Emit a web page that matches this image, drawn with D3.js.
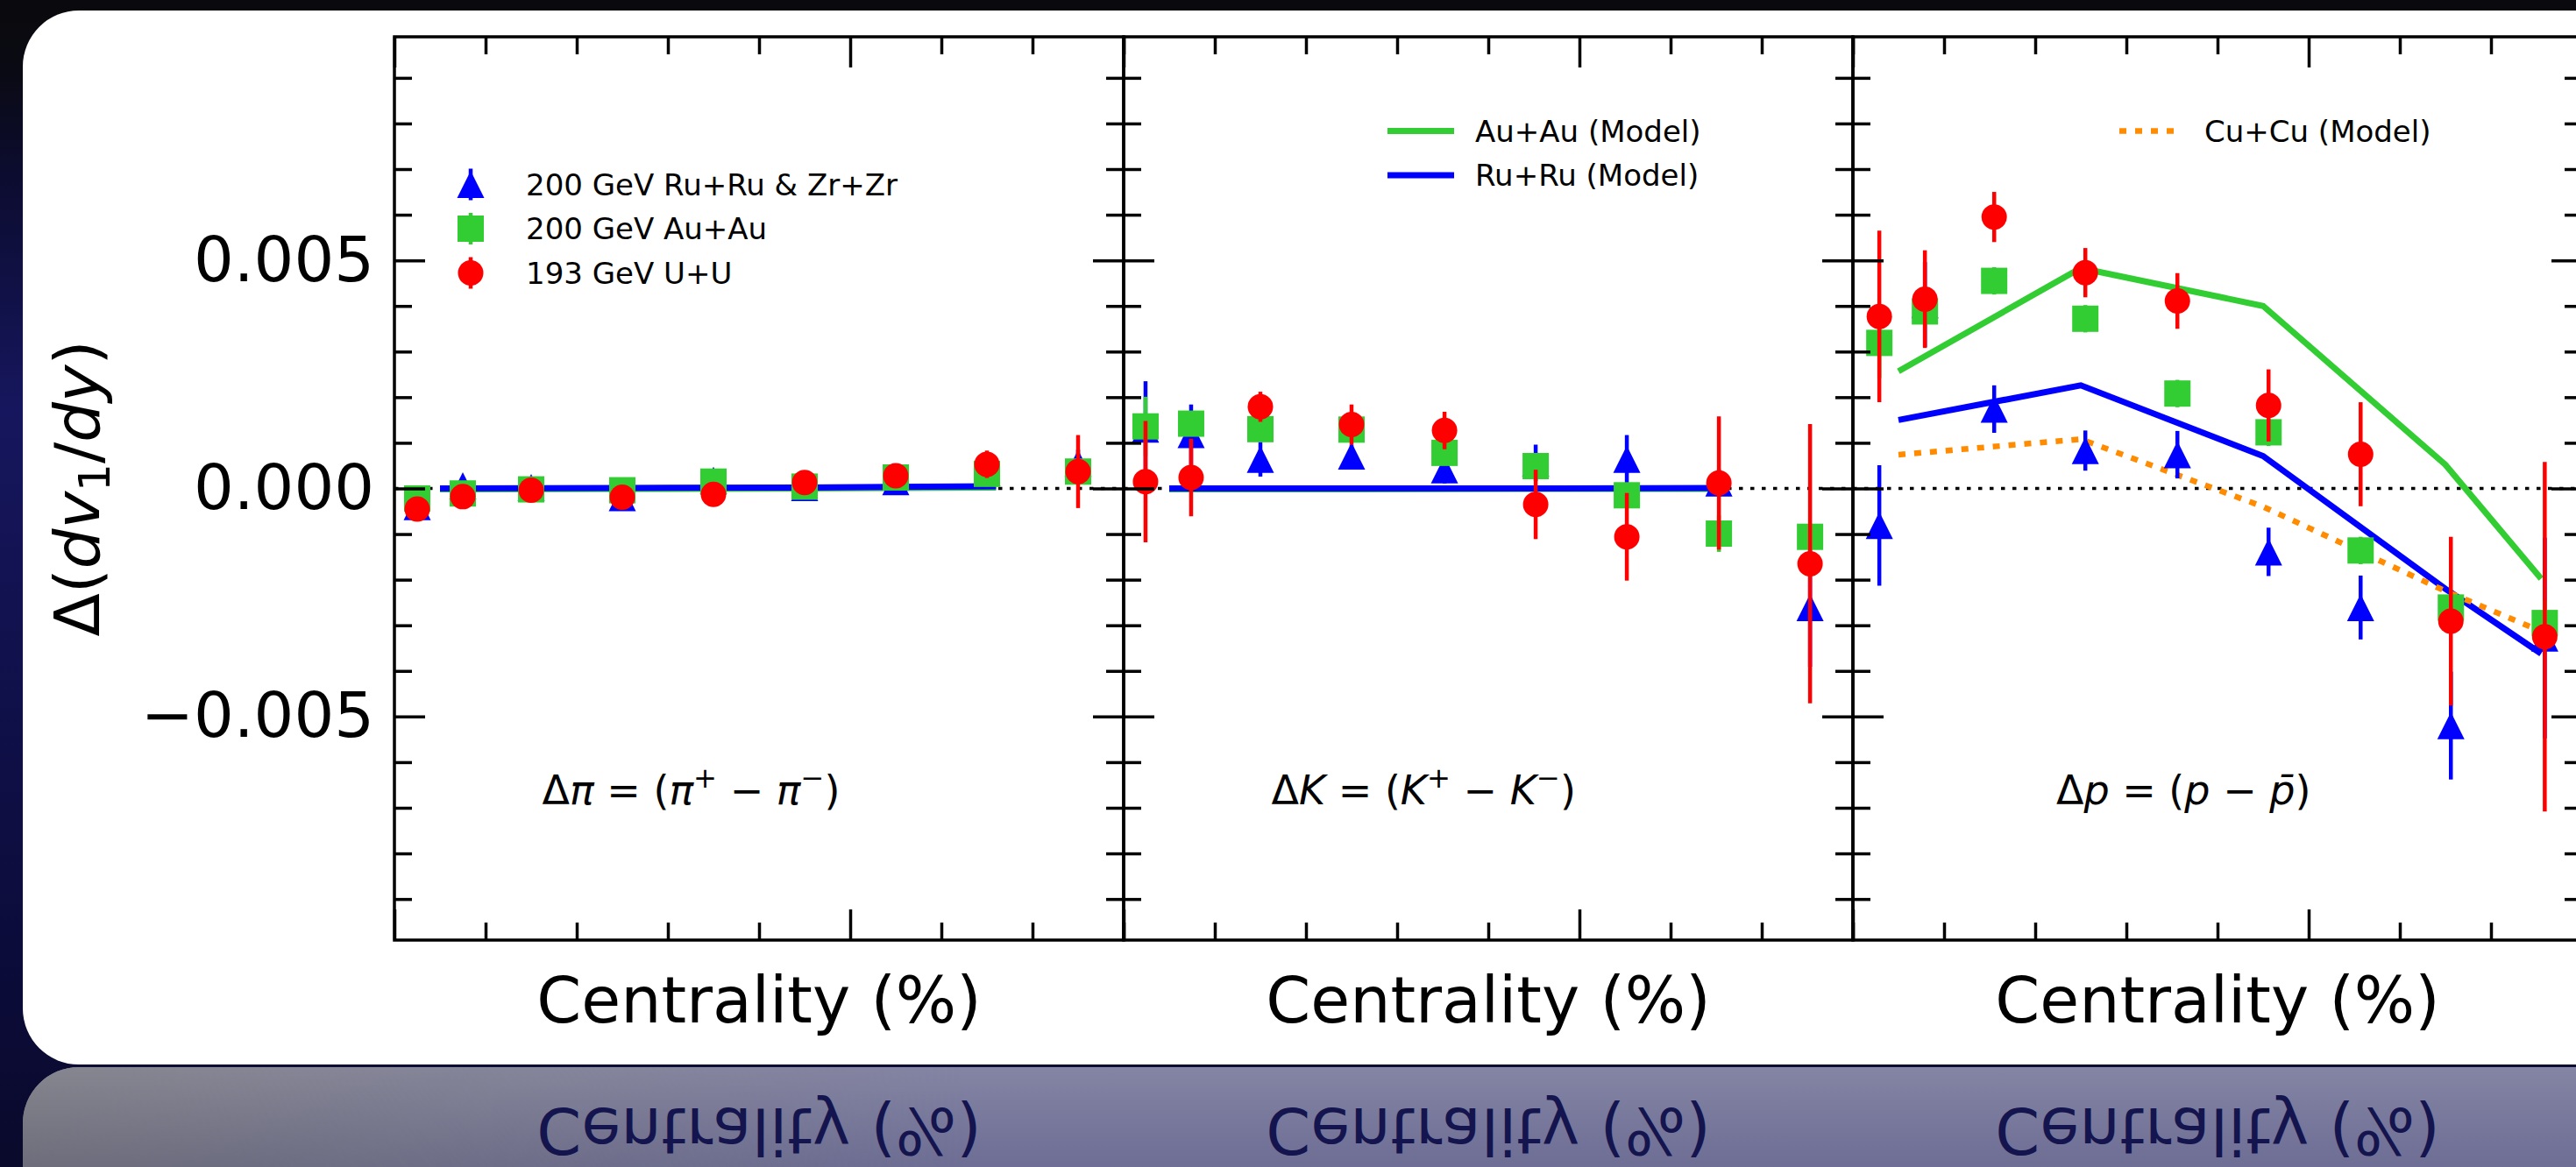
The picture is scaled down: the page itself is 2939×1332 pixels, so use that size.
<!DOCTYPE html>
<html>
<head>
<meta charset="utf-8">
<script src="https://cdn.jsdelivr.net/npm/d3@7"></script>
<style>
  html, body { margin: 0; padding: 0; background: #0a0a10; overflow: hidden; }
  svg { display: block; font-family: "DejaVu Sans", sans-serif; }
</style>
</head>
<body>
<svg id="chart" width="2939" height="1332"></svg>
<script>
// ---- data ----
const centralityPi = [2.5, 7.5, 15, 25, 35, 45, 55, 65, 75];
const centralityK = [2.4, 7.4, 15, 25, 35.2, 45.2, 55.2, 65.3, 75.3];
const centralityP = [2.9, 7.9, 15.5, 25.5, 35.6, 45.6, 55.7, 65.6, 75.9];

// pions
const piRuRu = [-0.00040, 0.00006, 0.00002, -0.00020, 0.00018, 0.00002, 0.00015, 0.00035, 0.00055];
const piRuRuErr = [0.00012, 0.00008, 0.00006, 0.00008, 0.00008, 0.00006, 0.00008, 0.00010, 0.00030];
const piAuAu = [-0.00022, -0.00011, -0.00002, -0.00004, 0.00015, 0.00004, 0.00024, 0.00032, 0.00037];
const piAuAuErr = [0.00006, 0.00005, 0.00005, 0.00005, 0.00006, 0.00005, 0.00006, 0.00008, 0.00010];
const piUU = [-0.00045, -0.00018, -0.00004, -0.00019, -0.00013, 0.00013, 0.00028, 0.00053, 0.00037];
const piUUErr = [0.00010, 0.00010, 0.00010, 0.00010, 0.00010, 0.00010, 0.00012, 0.00030, 0.00080];

// kaons
const kRuRu = [0.00130, 0.00118, 0.00064, 0.00071, 0.00041, 0.00056, 0.00064, 0.00012, -0.00261];
const kRuRuErr = [0.00105, 0.00066, 0.00038, 0.00025, 0.00030, 0.00040, 0.00053, 0.00030, 0.00130];
const kAuAu = [0.00136, 0.00142, 0.00130, 0.00129, 0.00078, 0.00049, -0.00015, -0.00099, -0.00106];
const kAuAuErr = [0.00065, 0.00020, 0.00020, 0.00020, 0.00020, 0.00020, 0.00020, 0.00040, 0.00030];
const kUU = [0.00015, 0.00024, 0.00179, 0.00140, 0.00127, -0.00035, -0.00106, 0.00012, -0.00165];
const kUUErr = [0.00133, 0.00085, 0.00033, 0.00044, 0.00041, 0.00076, 0.00096, 0.00146, 0.00306];

// protons
const pRuRu = [-0.00081, 0.00403, 0.00174, 0.00083, 0.00074, -0.00139, -0.00261, -0.00520, -0.00328];
const pRuRuErr = [0.00132, 0.00093, 0.00052, 0.00044, 0.00052, 0.00053, 0.00070, 0.00118, 0.00220];
const pAuAu = [0.00319, 0.00388, 0.00455, 0.00372, 0.00208, 0.00123, -0.00136, -0.00261, -0.00295];
const pAuAuErr = [0.00077, 0.00030, 0.00030, 0.00030, 0.00030, 0.00030, 0.00030, 0.00030, 0.00050];
const pUU = [0.00377, 0.00415, 0.00595, 0.00473, 0.00411, 0.00182, 0.00075, -0.00291, -0.00325];
const pUUErr = [0.00188, 0.00107, 0.00055, 0.00054, 0.00061, 0.00079, 0.00114, 0.00185, 0.00383];

// model curves
const modelCentrality = [5, 25, 45, 66];
const piModelAu = [-0.00002, -0.00001, 0.00000, 0.00002];
const piModelRu = [0.00000, 0.00001, 0.00002, 0.00005];
const kModelAu = [-0.00002, -0.00002, -0.00001, -0.00001];
const kModelRu = [0.00000, 0.00000, 0.00000, 0.00001];
const modelCentralityP = [5, 25, 45, 65, 75.5];
const pModelAu = [0.00257, 0.00483, 0.00400, 0.00052, -0.00198];
const pModelRu = [0.00150, 0.00226, 0.00071, -0.00220, -0.00362];
const pModelCu = [0.00074, 0.00108, -0.00040, -0.00225, -0.00313];

// axes / labels
const xDomain = [0, 80];
const yDomain = [-0.0099, 0.0099];
const xMajorTicks = [0, 50];
const xMinorTicks = [10, 20, 30, 40, 60, 70, 80];
const yMajorTicks = [-0.005, 0, 0.005];
const dataLegendLabels = ["200 GeV Ru+Ru & Zr+Zr", "200 GeV Au+Au", "193 GeV U+U"];
const modelLegendLabels = ["Au+Au (Model)", "Ru+Ru (Model)", "Cu+Cu (Model)"];
const xLabel = "Centrality (%)";
const noteParts = [
    [["Δ", ""], ["π", "i"], [" = (", ""], ["π", "i"], ["+", "sup"], [" − ", ""], ["π", "i"], ["−", "sup"], [")", ""]],
    [["Δ", ""], ["K", "i"], [" = (", ""], ["K", "i"], ["+", "sup"], [" − ", ""], ["K", "i"], ["−", "sup"], [")", ""]],
    [["Δ", ""], ["p", "i"], [" = (", ""], ["p", "i"], [" − ", ""], ["p\u0304", "i"], [")", ""]],
];

// ---- layout ----
const W = 2939, H = 1332;
const CARD = { x: 26, y: 12, w: 2980, bottom: 1215, r: 64 };
const PLOT = { left: 450, top: 42, bottom: 1073, panelW: 832 };
const MIRROR_Y = 1216;
const COLORS = { ru: "#0000ff", au: "#32cd32", u: "#ff0000", cu: "#ff8c00" };
const NOTE_POS = [{ x: 16.2, y: -0.00693 }, { x: 16.2, y: -0.00693 }, { x: 22.3, y: -0.00693 }];

const svg = d3.select("#chart");
const defs = svg.append("defs");

function addGradient(id, stops, attrs) {
    const g = defs.append("linearGradient").attr("id", id);
    Object.entries(attrs).forEach(([k, v]) => g.attr(k, v));
    stops.forEach(([o, c, op]) => g.append("stop").attr("offset", o).attr("stop-color", c).attr("stop-opacity", op ?? 1));
}

addGradient("bgGrad", [[0, "#0a0a0c"], [0.06, "#0a0a14"], [0.15, "#0c0c30"], [0.35, "#16165e"],
    [0.6, "#10104a"], [0.85, "#0b0b38"], [1, "#0a0a2c"]], { x1: 0, y1: 0, x2: 0, y2: 1 });
addGradient("reflRight", [[0, "#8484a4"], [1, "#4a4a7e"]], { x1: 0, y1: 0, x2: 0, y2: 1 });
addGradient("reflLeft", [[0, "#86868f"], [1, "#44445a"]], { x1: 0, y1: 0, x2: 0, y2: 1 });
addGradient("reflFade", [[0, "#fff"], [1, "#000"]],
    { gradientUnits: "userSpaceOnUse", x1: 26, y1: 0, x2: 1100, y2: 0 });
defs.append("mask").attr("id", "reflMask")
    .append("rect").attr("x", 0).attr("y", 0).attr("width", W).attr("height", H).attr("fill", "url(#reflFade)");
defs.append("clipPath").attr("id", "reflClip")
    .append("rect").attr("x", CARD.x).attr("y", MIRROR_Y + 2).attr("width", CARD.w).attr("height", 300).attr("rx", CARD.r);

/**
 * 背景・カード・反射部分
 */
function drawBackdrop() {
    svg.append("rect").attr("width", W).attr("height", H).attr("fill", "url(#bgGrad)");
    svg.append("rect").attr("width", W).attr("height", CARD.y).attr("fill", "#0a0a0e");

    const refl = svg.append("g").attr("clip-path", "url(#reflClip)");
    refl.append("rect").attr("x", CARD.x).attr("y", MIRROR_Y + 2).attr("width", CARD.w).attr("height", 300)
        .attr("fill", "url(#reflRight)");
    refl.append("rect").attr("x", CARD.x).attr("y", MIRROR_Y + 2).attr("width", CARD.w).attr("height", 300)
        .attr("fill", "url(#reflLeft)").attr("mask", "url(#reflMask)");

    const mirrored = refl.append("g")
        .attr("transform", `translate(0,${2 * MIRROR_Y}) scale(1,-1)`);
    [0, 1, 2].forEach((i) => {
        mirrored.append("text")
            .attr("x", PLOT.left + PLOT.panelW * (i + 0.5))
            .attr("y", 1167)
            .attr("text-anchor", "middle")
            .attr("font-size", 73)
            .attr("fill", "#14144e")
            .text(xLabel);
    });

    svg.append("rect")
        .attr("x", CARD.x).attr("y", CARD.y)
        .attr("width", CARD.w).attr("height", CARD.bottom - CARD.y)
        .attr("rx", CARD.r).attr("fill", "#ffffff");
}

function markerPath(shape) {
    if (shape === "triangle") return "M0,-15.5L15.5,15.5L-15.5,15.5Z";
    if (shape === "square") return "M-15,-15H15V15H-15Z";
    return "M-14.5,0A14.5,14.5 0 1,0 14.5,0A14.5,14.5 0 1,0 -14.5,0Z";
}

/**
 * 誤差棒つきマーカー
 */
function drawSeries(g, x, y, cent, vals, errs, color, shape) {
    const s = g.append("g");
    s.selectAll("line").data(vals).join("line")
        .attr("x1", (d, i) => x(cent[i])).attr("x2", (d, i) => x(cent[i]))
        .attr("y1", (d, i) => y(d - errs[i])).attr("y2", (d, i) => y(d + errs[i]))
        .attr("stroke", color).attr("stroke-width", 4.5);
    s.selectAll("path").data(vals).join("path")
        .attr("d", markerPath(shape))
        .attr("transform", (d, i) => `translate(${x(cent[i])},${y(d)})`)
        .attr("fill", color);
}

function drawModel(g, x, y, cent, vals, color, dash) {
    g.append("path")
        .datum(vals)
        .attr("d", d3.line().x((d, i) => x(cent[i])).y((d) => y(d)))
        .attr("fill", "none")
        .attr("stroke", color)
        .attr("stroke-width", dash ? 6.5 : 7)
        .attr("stroke-dasharray", dash || null);
}

function styleAxis(sel) {
    sel.select(".domain").remove();
    sel.selectAll(".tick line").attr("stroke", "#000").attr("stroke-width", 3.5);
}

/**
 * 枠と内向きの目盛り
 */
function drawFrame(g, x, y, left, right, withLabels) {
    const tickSets = [[xMajorTicks, 35], [xMinorTicks, 20]];
    tickSets.forEach(([vals, len]) => {
        g.append("g").attr("transform", `translate(0,${PLOT.bottom})`)
            .call(d3.axisBottom(x).tickValues(vals).tickSize(-len).tickFormat("")).call(styleAxis);
        g.append("g").attr("transform", `translate(0,${PLOT.top})`)
            .call(d3.axisTop(x).tickValues(vals).tickSize(-len).tickFormat("")).call(styleAxis);
    });
    const yMinor = y.ticks(20).filter((v) => !yMajorTicks.some((m) => Math.abs(m - v) < 1e-9));
    g.append("g").attr("transform", `translate(${left},0)`)
        .call(d3.axisLeft(y).tickValues(yMinor).tickSize(-20).tickFormat("")).call(styleAxis);
    g.append("g").attr("transform", `translate(${right},0)`)
        .call(d3.axisRight(y).tickValues(yMinor).tickSize(-20).tickFormat("")).call(styleAxis);
    g.append("g").attr("transform", `translate(${right},0)`)
        .call(d3.axisRight(y).tickValues(yMajorTicks).tickSize(-35).tickFormat("")).call(styleAxis);
    const leftMajor = g.append("g").attr("transform", `translate(${left},0)`)
        .call(d3.axisLeft(y).tickValues(yMajorTicks).tickSize(-35).tickPadding(23)
            .tickFormat(withLabels ? d3.format(".3f") : ""))
        .call(styleAxis);
    leftMajor.attr("font-size", 72).attr("font-family", null);
    leftMajor.selectAll("text").attr("fill", "#000");

    g.append("rect")
        .attr("x", left).attr("y", PLOT.top)
        .attr("width", right - left).attr("height", PLOT.bottom - PLOT.top)
        .attr("fill", "none").attr("stroke", "#000").attr("stroke-width", 3.5);
}

function drawMathText(g, px, py, parts, size) {
    const t = g.append("text").attr("x", px).attr("y", py).attr("font-size", size).attr("fill", "#000");
    const shift = size * 0.42;
    let raised = false;
    parts.forEach(([str, kind]) => {
        const sp = t.append("tspan").text(str).style("white-space", "pre");
        if (kind === "i") sp.attr("font-style", "italic");
        if (kind === "sup") {
            sp.attr("font-size", size * 0.7).attr("dy", -shift);
            raised = true;
        } else if (raised) {
            sp.attr("dy", shift);
            raised = false;
        }
    });
}

drawBackdrop();

const panels = [
    {
        cent: centralityPi, mCent: modelCentrality,
        series: [[piRuRu, piRuRuErr, COLORS.ru, "triangle"], [piAuAu, piAuAuErr, COLORS.au, "square"], [piUU, piUUErr, COLORS.u, "circle"]],
        models: [[piModelAu, COLORS.au], [piModelRu, COLORS.ru]],
    },
    {
        cent: centralityK, mCent: modelCentrality,
        series: [[kRuRu, kRuRuErr, COLORS.ru, "triangle"], [kAuAu, kAuAuErr, COLORS.au, "square"], [kUU, kUUErr, COLORS.u, "circle"]],
        models: [[kModelAu, COLORS.au], [kModelRu, COLORS.ru]],
    },
    {
        cent: centralityP, mCent: modelCentralityP,
        series: [[pRuRu, pRuRuErr, COLORS.ru, "triangle"], [pAuAu, pAuAuErr, COLORS.au, "square"], [pUU, pUUErr, COLORS.u, "circle"]],
        models: [[pModelAu, COLORS.au], [pModelRu, COLORS.ru], [pModelCu, COLORS.cu, "8,10"]],
    },
];

const y = d3.scaleLinear().domain(yDomain).range([PLOT.bottom, PLOT.top]);

panels.forEach((p, i) => {
    const left = PLOT.left + i * PLOT.panelW;
    const right = left + PLOT.panelW;
    const x = d3.scaleLinear().domain(xDomain).range([left, right]);
    const g = svg.append("g").attr("class", "panel");

    const clipId = `clip-${i}`;
    defs.append("clipPath").attr("id", clipId)
        .append("rect").attr("x", left).attr("y", PLOT.top).attr("width", PLOT.panelW).attr("height", PLOT.bottom - PLOT.top);
    const plot = g.append("g").attr("clip-path", `url(#${clipId})`);

    plot.append("line")
        .attr("x1", left).attr("x2", right).attr("y1", y(0)).attr("y2", y(0))
        .attr("stroke", "#000").attr("stroke-width", 3.5).attr("stroke-dasharray", "4.5,8.5");

    p.models.forEach(([vals, color, dash]) => drawModel(plot, x, y, p.mCent, vals, color, dash));
    p.series.forEach(([vals, errs, color, shape]) => drawSeries(plot, x, y, p.cent, vals, errs, color, shape));

    drawFrame(g, x, y, left, right, i === 0);

    drawMathText(g, x(NOTE_POS[i].x), y(NOTE_POS[i].y), noteParts[i], 46);

    g.append("text")
        .attr("x", (left + right) / 2).attr("y", 1167)
        .attr("text-anchor", "middle").attr("font-size", 73).attr("fill", "#000")
        .text(xLabel);
});

// ---- legends ----
const leg1 = svg.append("g");
const shapes = ["triangle", "square", "circle"];
const legColors = [COLORS.ru, COLORS.au, COLORS.u];
dataLegendLabels.forEach((lab, i) => {
    const cy = 210.5 + i * 50.5;
    leg1.append("line").attr("x1", 537).attr("x2", 537).attr("y1", cy - 18).attr("y2", cy + 18)
        .attr("stroke", legColors[i]).attr("stroke-width", 4.5);
    leg1.append("path").attr("d", markerPath(shapes[i])).attr("transform", `translate(537,${cy})`).attr("fill", legColors[i]);
    leg1.append("text").attr("x", 600).attr("y", cy + 12).attr("font-size", 34).attr("fill", "#000").text(lab);
});

const leg2 = svg.append("g");
[[COLORS.au, 149.5], [COLORS.ru, 200]].forEach(([c, ly], i) => {
    leg2.append("line").attr("x1", 1583).attr("x2", 1659).attr("y1", ly).attr("y2", ly)
        .attr("stroke", c).attr("stroke-width", 7);
    leg2.append("text").attr("x", 1683).attr("y", ly + 12).attr("font-size", 34).attr("fill", "#000").text(modelLegendLabels[i]);
});
svg.append("line").attr("x1", 2418).attr("x2", 2486).attr("y1", 149.5).attr("y2", 149.5)
    .attr("stroke", COLORS.cu).attr("stroke-width", 6.5).attr("stroke-dasharray", "8,10");
svg.append("text").attr("x", 2515).attr("y", 161.5).attr("font-size", 34).attr("fill", "#000").text(modelLegendLabels[2]);

// ---- y label ----
const yl = svg.append("text")
    .attr("transform", `translate(113,${y(0)}) rotate(-90)`)
    .attr("text-anchor", "middle").attr("font-size", 72).attr("fill", "#000");
yl.append("tspan").text("Δ(");
yl.append("tspan").attr("font-style", "italic").text("dv");
yl.append("tspan").attr("font-size", 50).attr("dy", 12).text("1");
yl.append("tspan").attr("dy", -12).text("/");
yl.append("tspan").attr("font-style", "italic").text("dy");
yl.append("tspan").text(")");
</script>
</body>
</html>
